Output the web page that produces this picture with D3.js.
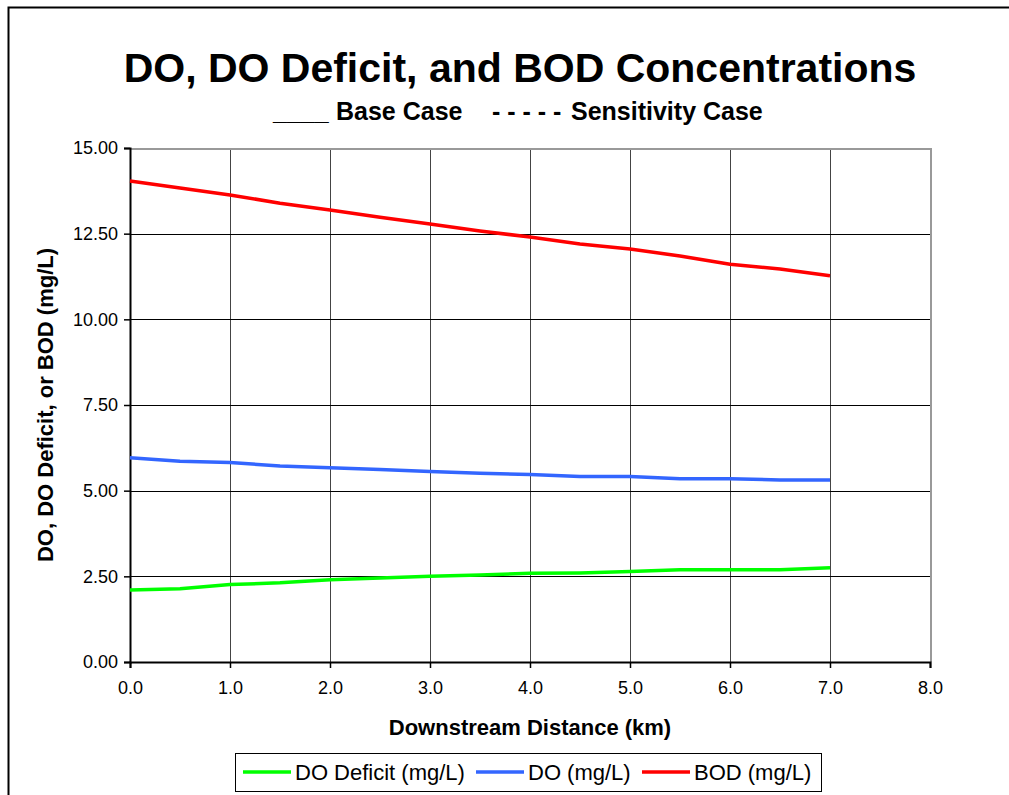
<!DOCTYPE html>
<html>
<head>
<meta charset="utf-8">
<script src="https://cdn.jsdelivr.net/npm/d3@7"></script>
<style>
    html, body { margin: 0; background: #fff; overflow: hidden; }
    svg { display: block; }
    svg text { font-family: "Liberation Sans", Arial, sans-serif; fill: #000; }
    .grid line { shape-rendering: crispEdges; }
</style>
</head>
<body>
<div id="chart"></div>
<script>
'use strict';

var distance = [0, 0.5, 1, 1.5, 2, 2.5, 3, 3.5, 4, 4.5, 5, 5.5, 6, 6.5, 7];
var doDeficit = [2.10, 2.14, 2.26, 2.31, 2.40, 2.45, 2.50, 2.54, 2.59, 2.60, 2.64, 2.69, 2.69, 2.69, 2.75];
var dissolvedO = [5.96, 5.86, 5.82, 5.72, 5.67, 5.62, 5.56, 5.51, 5.47, 5.41, 5.41, 5.35, 5.35, 5.31, 5.31];
var bod = [14.04, 13.83, 13.63, 13.39, 13.19, 12.98, 12.78, 12.58, 12.40, 12.20, 12.05, 11.85, 11.61, 11.47, 11.27];

var xTicks = [0, 1, 2, 3, 4, 5, 6, 7, 8];
var yTicks = [0, 2.5, 5, 7.5, 10, 12.5, 15];

var seriesList = [
    { name: 'DO Deficit (mg/L)', values: doDeficit, color: '#00ff00' },
    { name: 'DO (mg/L)', values: dissolvedO, color: '#3366ff' },
    { name: 'BOD (mg/L)', values: bod, color: '#ff0000' }
];

var stage = { width: 1009, height: 795 };
var plot = { left: 130, top: 148, right: 930, bottom: 662 };

var svg = d3.select('#chart').append('svg')
    .attr('width', stage.width)
    .attr('height', stage.height);

// outer frame (only top and left edges are in view)
svg.append('path')
    .attr('d', 'M8.5,' + stage.height + 'V7.5H' + stage.width)
    .attr('fill', 'none')
    .attr('stroke', '#000')
    .attr('stroke-width', 2);

var x = d3.scaleLinear().domain([0, 8]).range([plot.left, plot.right]);
var y = d3.scaleLinear().domain([0, 15]).range([plot.bottom, plot.top]);

// gridlines
var grid = svg.append('g').attr('class', 'grid');
grid.selectAll('line.v').data(xTicks.slice(1)).enter()
    .append('line')
    .attr('class', 'v')
    .attr('x1', function(d) { return Math.round(x(d)) + 0.5; })
    .attr('x2', function(d) { return Math.round(x(d)) + 0.5; })
    .attr('y1', plot.top)
    .attr('y2', plot.bottom)
    .attr('stroke', function(d) { return d === 8 ? '#999' : '#444'; })
    .attr('stroke-width', function(d) { return d === 8 ? 2 : 1; });

grid.selectAll('line.h').data(yTicks.slice(1)).enter()
    .append('line')
    .attr('class', 'h')
    .attr('x1', plot.left)
    .attr('x2', plot.right)
    .attr('y1', function(d) { return Math.round(y(d)) + 0.5; })
    .attr('y2', function(d) { return Math.round(y(d)) + 0.5; })
    .attr('stroke', function(d) { return d === 15 ? '#999' : '#000'; })
    .attr('stroke-width', function(d) { return d === 15 ? 2 : 1; });

// axes
var xAxis = svg.append('g')
    .attr('transform', 'translate(0,' + plot.bottom + ')')
    .call(d3.axisBottom(x).tickValues(xTicks).tickSize(6).tickPadding(13)
        .tickFormat(d3.format('.1f')));

var yAxis = svg.append('g')
    .attr('transform', 'translate(' + plot.left + ',0)')
    .call(d3.axisLeft(y).tickValues(yTicks).tickSize(6).tickPadding(6)
        .tickFormat(d3.format('.2f')));

[xAxis, yAxis].forEach(function(axis) {
    axis.select('.domain').attr('stroke', '#000').attr('stroke-width', 2);
    axis.selectAll('.tick line').attr('stroke', '#000').attr('stroke-width', 1.5);
    axis.selectAll('.tick text')
        .attr('font-size', 18)
        .attr('font-family', '"Liberation Sans", Arial, sans-serif')
        .attr('fill', '#000');
});

// series
var line = d3.line()
    .x(function(d, i) { return x(distance[i]); })
    .y(function(d) { return y(d); });

svg.append('g').selectAll('path').data(seriesList).enter()
    .append('path')
    .attr('d', function(d) { return line(d.values); })
    .attr('fill', 'none')
    .attr('stroke', function(d) { return d.color; })
    .attr('stroke-width', 3.5)
    .attr('stroke-linejoin', 'round');

// titles
svg.append('text')
    .attr('x', 520)
    .attr('y', 82)
    .attr('text-anchor', 'middle')
    .attr('font-size', 41)
    .attr('font-weight', 'bold')
    .text('DO, DO Deficit, and BOD Concentrations');

var sub = svg.append('g').attr('font-size', 25).attr('font-weight', 'bold');
sub.append('text').attr('x', 273).attr('y', 120).text('____');
sub.append('text').attr('x', 336).attr('y', 120).text('Base Case');
sub.append('text').attr('x', 492).attr('y', 120).text('- - - - -');
sub.append('text').attr('x', 571).attr('y', 120).text('Sensitivity Case');

svg.append('text')
    .attr('x', 530)
    .attr('y', 735)
    .attr('text-anchor', 'middle')
    .attr('font-size', 22)
    .attr('font-weight', 'bold')
    .text('Downstream Distance (km)');

svg.append('text')
    .attr('transform', 'translate(53,' + (plot.top + plot.bottom) / 2 + ') rotate(-90)')
    .attr('text-anchor', 'middle')
    .attr('font-size', 22)
    .attr('font-weight', 'bold')
    .text('DO, DO Deficit, or BOD (mg/L)');

// legend
var legend = svg.append('g');
legend.append('rect')
    .attr('x', 235.5)
    .attr('y', 753.5)
    .attr('width', 586)
    .attr('height', 38)
    .attr('fill', '#fff')
    .attr('stroke', '#000')
    .attr('stroke-width', 1);

var legendX = [243, 476, 642];
var items = legend.selectAll('g.item').data(seriesList).enter()
    .append('g')
    .attr('class', 'item')
    .attr('transform', function(d, i) { return 'translate(' + legendX[i] + ',772)'; });

items.append('line')
    .attr('x1', 0).attr('x2', 48)
    .attr('stroke', function(d) { return d.color; })
    .attr('stroke-width', 3.5);

items.append('text')
    .attr('x', 52)
    .attr('y', 8)
    .attr('font-size', 22)
    .text(function(d) { return d.name; });
</script>
</body>
</html>
